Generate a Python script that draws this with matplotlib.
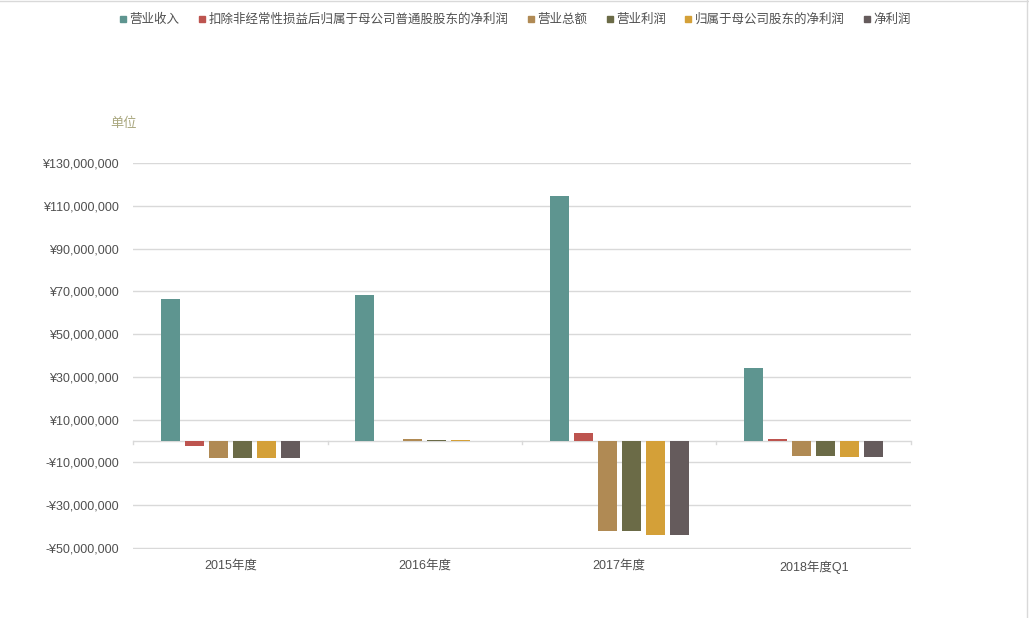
import numpy as np
import matplotlib
matplotlib.use("Agg")
from matplotlib import pyplot as plt
from matplotlib.lines import Line2D

plt.rcParams['font.family'] = ['Liberation Sans', 'Noto Sans CJK SC', 'DejaVu Sans']

# data (yuan)
periods = ['2015年度', '2016年度', '2017年度', '2018年度Q1']
series = ['营业收入', '扣除非经常性损益后归属于母公司普通股股东的净利润', '营业总额',
          '营业利润', '归属于母公司股东的净利润', '净利润']
revenue = [66400000, 68300000, 114500000, 34100000]
net_deducted = [-2200000, 0, 3700000, 900000]
total_op = [-7800000, 900000, -41900000, -7000000]
op_profit = [-7800000, 500000, -41900000, -7000000]
parent_profit = [-7800000, 400000, -43800000, -7500000]
net_profit = [-7800000, 0, -43800000, -7500000]
values = [revenue, net_deducted, total_op, op_profit, parent_profit, net_profit]
colors = ['#5e9590', '#bd544f', '#b08a54', '#6b6b47', '#d4a038', '#655b5c']

yticks = [-50000000, -30000000, -10000000, 10000000, 30000000,
          50000000, 70000000, 90000000, 110000000, 130000000]

fig = plt.figure(figsize=(10.29, 6.18), dpi=100)
ax = fig.add_axes([0.1293, 0.1117, 0.7560, 0.6245])

x = np.arange(len(periods))
step = 0.123
width = 0.098
for k, (vals, c) in enumerate(zip(values, colors)):
    ax.bar(x + (k - 2.5) * step, vals, width=width, color=c, zorder=3)

ax.set_xlim(-0.5, len(periods) - 0.5)
ax.set_ylim(-50500000, 130000000)
ax.set_yticks(yticks)


def fmt(v):
    s = '¥{:,}'.format(abs(int(v)))
    return '-' + s if v < 0 else s


ax.set_yticklabels([fmt(v) for v in yticks])
ax.grid(axis='y', color='#d9d9d9', linewidth=1, zorder=0)
ax.axhline(0, color='#d9d9d9', linewidth=1, zorder=2)
for b in np.arange(len(periods) + 1) - 0.5:
    ax.plot([b, b], [0, -1500000], color='#d9d9d9', linewidth=1, zorder=2, clip_on=False)

for s in ax.spines.values():
    s.set_visible(False)
ax.tick_params(axis='y', length=0, pad=10, labelsize=9, labelcolor='#505050')
ax.set_xticks(x)
ax.set_xticklabels(periods)
ax.tick_params(axis='x', length=0, pad=8, labelsize=9, labelcolor='#505050')

fig.text(0.107, 0.800, '单位', fontsize=9.5, color='#a9a77f', ha='left', va='center')

handles = [Line2D([], [], marker='s', linestyle='none', markersize=5,
                  markerfacecolor=c, markeredgecolor=c) for c in colors]
fig.legend(handles, series, loc='center', bbox_to_anchor=(0.5, 0.968), ncol=6,
           frameon=False, fontsize=9, handletextpad=0.1, columnspacing=1.4,
           labelcolor='#505050', handlelength=0.8)

# outer frame lines
fig.add_artist(Line2D([0, 1], [0.998, 0.998], color='#d9d9d9', linewidth=1, transform=fig.transFigure))
fig.add_artist(Line2D([0.998, 0.998], [0, 1], color='#d9d9d9', linewidth=1, transform=fig.transFigure))

fig.savefig('out.png', dpi=100)
